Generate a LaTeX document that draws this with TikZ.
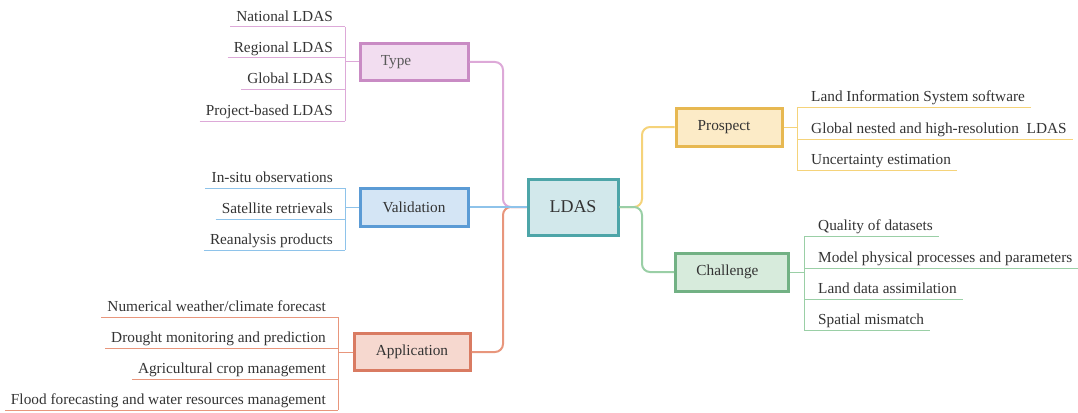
\documentclass[tikz,border=0pt]{standalone}
\usepackage{fontspec}
\setmainfont{Liberation Serif}
\definecolor{pkB}{HTML}{C98BC4}\definecolor{pkF}{HTML}{F2DDF0}\definecolor{pkL}{HTML}{DDA9D8}
\definecolor{blB}{HTML}{5B9BD5}\definecolor{blF}{HTML}{D4E5F5}\definecolor{blL}{HTML}{8EC3EA}
\definecolor{orB}{HTML}{D97B62}\definecolor{orF}{HTML}{F6D8CF}\definecolor{orL}{HTML}{E8967C}
\definecolor{tlB}{HTML}{4DA5A8}\definecolor{tlF}{HTML}{D2E8EB}
\definecolor{ylB}{HTML}{E7B851}\definecolor{ylF}{HTML}{FCEBC7}\definecolor{ylL}{HTML}{F5D37A}
\definecolor{grB}{HTML}{72B184}\definecolor{grF}{HTML}{D7EBDC}\definecolor{grL}{HTML}{9ACFA6}
\definecolor{txt}{HTML}{333333}
\tikzset{
  box/.style={draw, line width=3pt, minimum height=38pt, inner sep=0pt, text=txt,
    font=\fontsize{15.3}{18}\selectfont},
  leaf/.style={inner xsep=6pt, inner ysep=2pt, text height=10.5pt, text depth=3.5pt,
    text=txt, font=\fontsize{15.3}{18}\selectfont},
  branch/.style={line width=2pt, rounded corners=8pt},
  twig/.style={line width=1pt},
}
\begin{document}
\begin{tikzpicture}[x=1pt,y=-1pt]
\useasboundingbox (0,0) rectangle (1078,412);
% central
\node[box, draw=tlB, fill=tlF, minimum width=90pt, minimum height=56pt,
  font=\fontsize{18}{22}\selectfont] (ldas) at (573,207) {LDAS};
% main boxes
\node[box, draw=pkB, fill=pkF, minimum width=108pt, minimum height=36pt, text=black!65] (type) at (414,62) {Type\kern36pt};
\node[box, draw=blB, fill=blF, minimum width=108pt] (val) at (414,207) {Validation};
\node[box, draw=orB, fill=orF, minimum width=116pt, minimum height=37pt] (app) at (412,352) {Application};
\node[box, draw=ylB, fill=ylF, minimum width=106pt] (pro) at (729,127) {Prospect\kern10pt};
\node[box, draw=grB, fill=grF, minimum width=113pt] (cha) at (732,272) {Challenge\kern9pt};
% junction coordinates
\coordinate (jl1) at (503,62);
\coordinate (jl2) at (503,207);
\coordinate (jl3) at (503,352);
\coordinate (jr1) at (642,127);
\coordinate (jr2) at (642,207);
\coordinate (jr3) at (642,272);
% branches
\draw[branch, pkL] (type.east) -- (jl1) -- (jl2) -- (ldas.west);
\draw[branch, orL] (app.east) -- (jl3) -- (jl2) -- (ldas.west);
\draw[branch, blL] (val.east) -- (ldas.west);
\draw[branch, ylL] (ldas.east) -- (jr2) -- (jr1) -- (pro.west);
\draw[branch, grL] (ldas.east) -- (jr2) -- (jr3) -- (cha.west);

% Type leaves
\coordinate (tv0) at (345,62);
\coordinate (tv1) at (345,27);\coordinate (tv2) at (345,58);
\coordinate (tv3) at (345,89);\coordinate (tv4) at (345,121);
\node[leaf, anchor=south east] (t1) at (339,27) {National LDAS};
\node[leaf, anchor=south east] (t2) at (339,58) {Regional LDAS};
\node[leaf, anchor=south east] (t3) at (339,89) {Global LDAS};
\node[leaf, anchor=south east] (t4) at (339,121) {Project-based LDAS};
\draw[twig, pkL] (tv1) -- (tv4);
\draw[twig, pkL] (tv0) -- (type.west);
\foreach \i in {1,...,4}{\draw[twig, pkL] (t\i.south west) -- (tv\i);}

% Validation leaves
\coordinate (vv0) at (345,207);
\coordinate (vv1) at (345,188);\coordinate (vv2) at (345,219);\coordinate (vv3) at (345,250);
\node[leaf, anchor=south east] (v1) at (339,188) {In-situ observations};
\node[leaf, anchor=south east] (v2) at (339,219) {Satellite retrievals};
\node[leaf, anchor=south east] (v3) at (339,250) {Reanalysis products};
\draw[twig, blL] (vv1) -- (vv3);
\draw[twig, blL] (vv0) -- (val.west);
\foreach \i in {1,...,3}{\draw[twig, blL] (v\i.south west) -- (vv\i);}

% Application leaves
\coordinate (av0) at (338,352);
\coordinate (av1) at (338,317);\coordinate (av2) at (338,348);
\coordinate (av3) at (338,379);\coordinate (av4) at (338,410);
\node[leaf, anchor=south east] (a1) at (332,317) {Numerical weather/climate forecast};
\node[leaf, anchor=south east] (a2) at (332,348) {Drought monitoring and prediction};
\node[leaf, anchor=south east] (a3) at (332,379) {Agricultural crop management};
\node[leaf, anchor=south east] (a4) at (332,410) {Flood forecasting and water resources management};
\draw[twig, orL] (av1) -- (av4);
\draw[twig, orL] (av0) -- (app.west);
\foreach \i in {1,...,4}{\draw[twig, orL] (a\i.south west) -- (av\i);}

% Prospect leaves
\coordinate (pv0) at (797,127);
\coordinate (pv1) at (797,107);\coordinate (pv2) at (797,139);\coordinate (pv3) at (797,170);
\node[leaf, anchor=south west] (p1) at (805,107) {Land Information System software};
\node[leaf, anchor=south west] (p2) at (805,139) {Global nested and high-resolution\ \ LDAS};
\node[leaf, anchor=south west] (p3) at (805,170) {Uncertainty estimation};
\draw[twig, ylL] (pv1) -- (pv3);
\draw[twig, ylL] (pro.east) -- (pv0);
\foreach \i in {1,...,3}{\draw[twig, ylL] (pv\i) -- (p\i.south east);}

% Challenge leaves
\coordinate (cv0) at (804,272);
\coordinate (cv1) at (804,236);\coordinate (cv2) at (804,268);
\coordinate (cv3) at (804,299);\coordinate (cv4) at (804,330);
\node[leaf, anchor=south west] (c1) at (812,236) {Quality of datasets};
\node[leaf, anchor=south west] (c2) at (812,268) {Model physical processes and parameters};
\node[leaf, anchor=south west] (c3) at (812,299) {Land data assimilation};
\node[leaf, anchor=south west] (c4) at (812,330) {Spatial mismatch};
\draw[twig, grL] (cv1) -- (cv4);
\draw[twig, grL] (cha.east) -- (cv0);
\foreach \i in {1,...,4}{\draw[twig, grL] (cv\i) -- (c\i.south east);}
\end{tikzpicture}
\end{document}
